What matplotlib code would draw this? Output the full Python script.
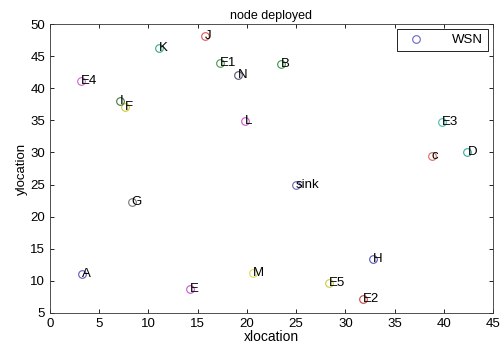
import numpy as np
import matplotlib.pyplot as plt

plt.rcParams['font.family'] = ['Liberation Sans', 'DejaVu Sans']

# node names and positions
names = ['A', 'B', 'c', 'D', 'E', 'F', 'G', 'H', 'I', 'J', 'K', 'L', 'M', 'N',
         'E1', 'E2', 'E3', 'E4', 'E5', 'sink']
xloc = [3.2, 23.5, 38.8, 42.4, 14.2, 7.6, 8.3, 32.8, 7.1, 15.7, 11.1, 19.8, 20.6, 19.1,
        17.3, 31.8, 39.8, 3.1, 28.3, 25.0]
yloc = [11.0, 43.8, 29.5, 30.0, 8.8, 37.1, 22.3, 13.4, 38.1, 48.1, 46.3, 34.9, 11.2, 42.0,
        44.0, 7.1, 34.7, 41.2, 9.7, 25.0]
colors = ['#6655bb', '#339944', '#dd6655', '#33aa99', '#cc55cc', '#cccc33', '#777777',
          '#5555bb', '#447744', '#dd5555', '#33aa88', '#cc55cc', '#dddd55', '#555577',
          '#449944', '#cc4444', '#44bbaa', '#cc66cc', '#cccc44', '#6666bb']

fig = plt.figure(figsize=(5, 3.45), dpi=100)
ax = fig.add_axes([0.1, 0.093, 0.886, 0.837])

for i in range(len(names)):
    ax.plot(xloc[i], yloc[i], 'o', mfc='none', mec=colors[i], ms=5.5, mew=0.8,
            label='WSN' if i == 0 else None)
    ax.text(xloc[i], yloc[i], names[i], fontsize=9.5, ha='left', va='center')

leg = ax.legend(loc='upper right', fontsize=9.5, fancybox=False, framealpha=1,
                edgecolor='black', handletextpad=1.6, handlelength=2.2,
                borderpad=0.35, borderaxespad=0.4)
leg.get_frame().set_linewidth(0.6)
leg.legend_handles[0].set_markeredgecolor('#6666cc')

ax.set_xlim(0, 45)
ax.set_ylim(5, 50)
ax.set_xticks(np.arange(0, 46, 5))
ax.set_yticks(np.arange(5, 51, 5))
ax.tick_params(direction='in', top=True, right=True, labelsize=9.5, length=3, width=0.6)
for s in ax.spines.values():
    s.set_linewidth(0.6)
    s.set_color('#333333')

ax.set_title('node deployed', fontsize=9, pad=4)
ax.set_xlabel('xlocation', fontsize=10, labelpad=0)
ax.set_ylabel('ylocation', fontsize=9.5, labelpad=2)

fig.savefig('out.png', dpi=100)
